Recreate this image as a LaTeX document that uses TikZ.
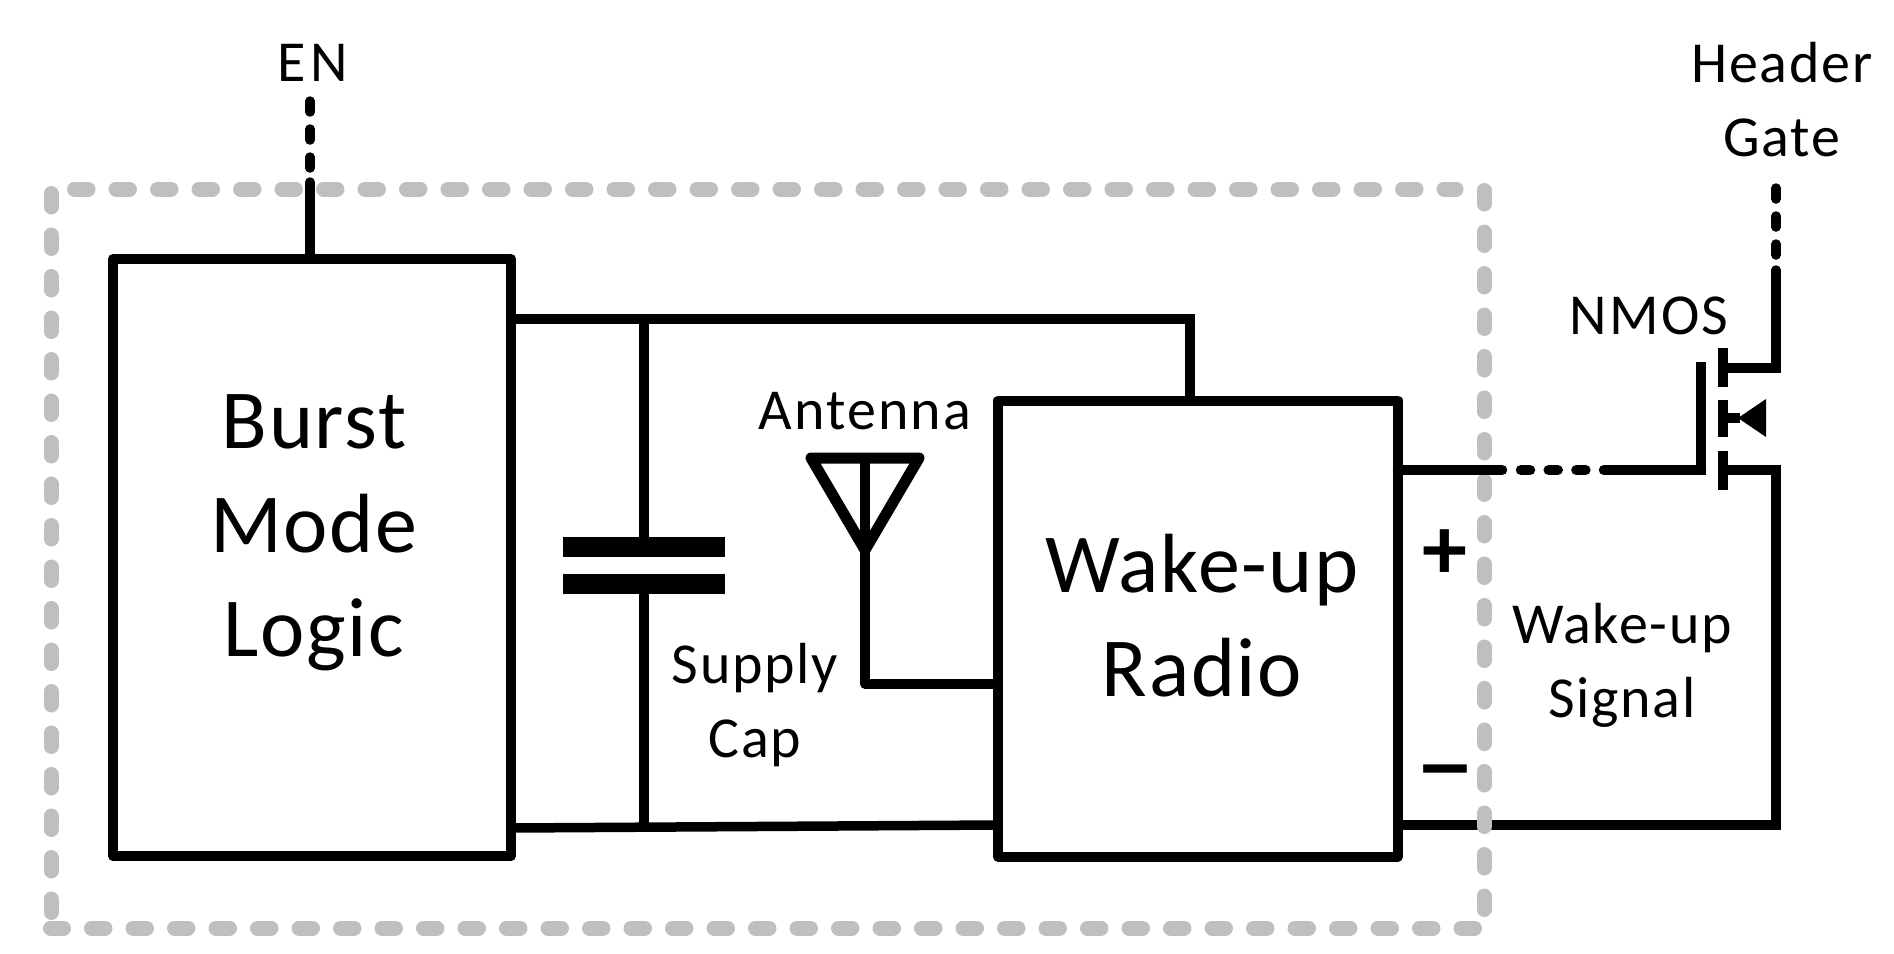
\documentclass[tikz,border=0pt]{standalone}
\usepackage{fontspec}
\setmainfont[LetterSpace=3]{Carlito}
\newfontfamily\signfont{Carlito}
\newfontfamily\bigfont[LetterSpace=2]{Carlito}
\usetikzlibrary{calc}
\tikzset{
  wire/.style={line width=9.5pt,line cap=butt,line join=miter},
  blockbox/.style={draw,line width=10pt,line join=round,rectangle,inner sep=0pt,fill=none},
  dashwire/.style={line width=9.5pt,line cap=round,dash pattern=on 11pt off 17pt},
  envelope/.style={draw=envgray,line width=15pt,line cap=round,dash pattern=on 13.5pt off 28pt},
  plate/.style={fill=black,draw=none},
  smalltext/.style={font=\fontsize{58}{74}\selectfont,align=center,inner sep=0pt,anchor=base},
  bigtext/.style={font=\bigfont\fontsize{84}{104}\selectfont,align=center,inner sep=0pt},
  signtext/.style={font=\signfont\bfseries\fontsize{90}{90}\selectfont,inner sep=0pt,anchor=center},
}
\definecolor{envgray}{HTML}{BFBFBF}
\begin{document}
\begin{tikzpicture}[x=1pt,y=-1pt]
\useasboundingbox (0,0) rectangle (1894,953);
% named anchors
\node[blockbox,minimum width=398pt,minimum height=597pt] (burst) at (312,557.5) {};
\node[blockbox,minimum width=400pt,minimum height=456pt] (radio) at (1198,628.5) {};
\node[bigtext] (burstlabel) at (314,533) {Burst\\Mode\\Logic};
\node[bigtext] (radiolabel) at (1202,615.5) {Wake-up\\Radio};

\coordinate (railTL) at (512,319);
\coordinate (railTR) at (1190,319);
\coordinate (railBL) at (512,828);
\coordinate (railBR) at (998,825);
\coordinate (capTop) at (644,319);
\coordinate (capBottom) at (644,827);
\coordinate (plateA) at (644,547);
\coordinate (plateB) at (644,584);
\coordinate (antTip) at (865,550);
\coordinate (antL) at (811,458);
\coordinate (antR) at (919,458);
\coordinate (antTop) at (865,458);
\coordinate (antBend) at (865,684);
\coordinate (antEnd) at (998,684);
\coordinate (outA) at (1398,470);
\coordinate (outB) at (1502,470);
\coordinate (outC) at (1604,470);
\coordinate (gateBottom) at (1701,475);
\coordinate (gateTop) at (1701,362);
\coordinate (chanA1) at (1723,348);
\coordinate (chanA2) at (1723,387);
\coordinate (chanB1) at (1723,400);
\coordinate (chanB2) at (1723,437);
\coordinate (chanC1) at (1723,451);
\coordinate (chanC2) at (1723,490);
\coordinate (drainMid) at (1723,368);
\coordinate (drainCorner) at (1776,368);
\coordinate (drainTop) at (1776,271);
\coordinate (gateDash) at (1776,188);
\coordinate (sourceMid) at (1723,470);
\coordinate (sourceCorner) at (1776,470);
\coordinate (loopCorner) at (1776,825);
\coordinate (loopEnd) at (1398,825);
\coordinate (enTop) at (310,182);
\coordinate (enDash) at (310,101);

% lower return wire lies under the envelope
\draw[wire,line join=miter] (sourceMid) -- (sourceCorner) -- (loopCorner) -- (loopEnd);

% envelope
\draw[envelope] (74.5,189) -- (1456,189);
\draw[envelope] (51,193.5) -- (51,921);
\draw[envelope] (1484,190.5) -- (1484,910);
\draw[envelope] (1474.5,928) -- (50.5,928);

% EN
\draw[wire,line cap=round] (enTop) -- (burst.north -| enTop);
\draw[dashwire] (enDash) -- (enTop);

% supply
\draw[wire,line join=miter] (railTL) -- (railTR) -- (radio.north -| railTR);
\draw[wire] (railBL) -- (railBR);
\draw[wire] (capTop) -- (plateA);
\draw[wire] (plateB) -- (capBottom);
\fill[plate] (563,537) rectangle (725,557);
\fill[plate] (563,574) rectangle (725,594);

% antenna
\draw[line width=11pt,line join=round] (antL) -- (antR) -- (antTip) -- cycle;
\draw[wire,line join=round] (antTop) -- (antTip) -- (antBend) -- (antEnd);

% wake-up output and MOS
\draw[line width=10.5pt,line cap=round] (outA) -- (outB);
\draw[line width=10.5pt,line cap=round,dash pattern=on 9pt off 18.7pt] (1521,470) -- (1590,470);
\draw[line width=10.5pt,line cap=round] (outC) -- (gateBottom |- outC);
\draw[wire] (gateBottom) -- (gateTop);
\draw[wire] (chanA1) -- (chanA2);
\draw[wire] (chanB1) -- (chanB2);
\draw[wire] (chanC1) -- (chanC2);
\draw[wire,line join=miter] (drainMid) -- (drainCorner) -- (drainTop);
\draw[wire,line cap=round] (drainCorner |- drainTop) -- ++(0,-1);
\draw[dashwire] (gateDash) -- (drainTop);
\draw[wire] (1723,418) -- (1740,418);
\fill (1738,418) -- (1766,399) -- (1766,437) -- cycle;

% labels
\node[smalltext] (enlabel) at (313,81) {\addfontfeature{LetterSpace=8}EN};
\node[smalltext] (headerlabel) at (1782,156) {Header\\Gate};
\node[smalltext] (nmoslabel) at (1649,334) {\addfontfeature{LetterSpace=4}NMOS};
\node[smalltext] (antennalabel) at (865,429) {\addfontfeature{LetterSpace=3.5}Antenna};
\node[smalltext] (supplylabel) at (755,757) {Supply\\Cap};
\node[smalltext] (signallabel) at (1622,717) {Wake-up\\Signal};
\node[signtext] (plussign) at (1445,555) {+};
\node[signtext,xscale=1.25] (minussign) at (1445,781) {\char"2212};
\end{tikzpicture}
\end{document}
